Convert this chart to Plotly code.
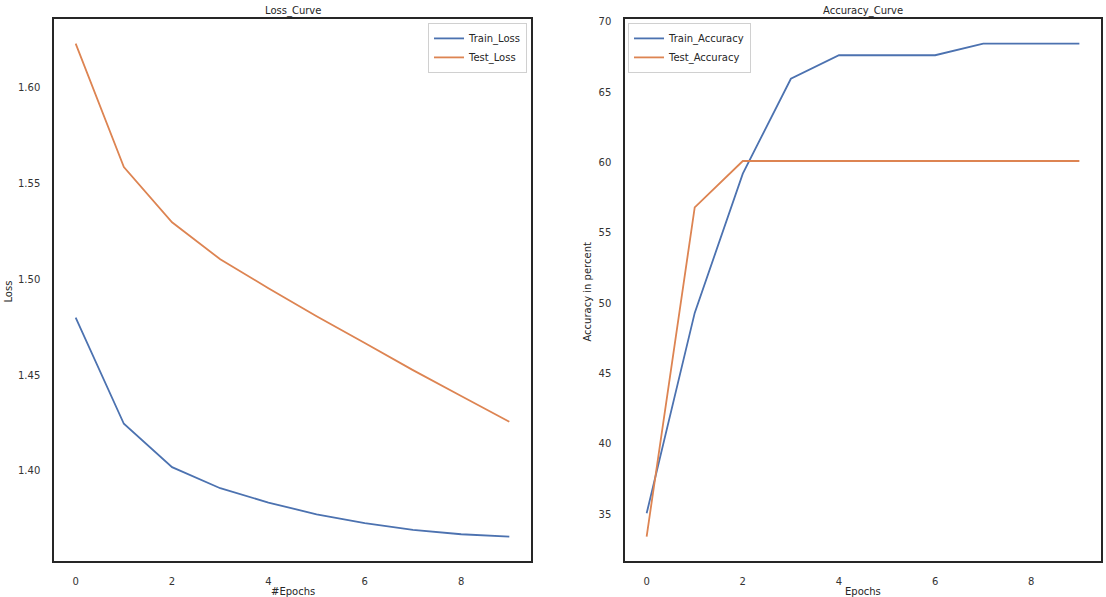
import plotly.graph_objects as go

W, H = 1106, 597

epochs = list(range(10))
train_loss = [1.480, 1.4246, 1.402, 1.391, 1.3835, 1.3774, 1.3728, 1.3693, 1.367, 1.3658]
test_loss = [1.6229, 1.5585, 1.5297, 1.5104, 1.4953, 1.4807, 1.4667, 1.4526, 1.4391, 1.4257]
train_acc = [35.05, 49.3, 59.2, 65.95, 67.62, 67.62, 67.62, 68.45, 68.45, 68.45]
test_acc = [33.4, 56.8, 60.1, 60.1, 60.1, 60.1, 60.1, 60.1, 60.1, 60.1]

BLUE = "#4C72B0"
ORANGE = "#DD8452"
INK = "#262626"
FONT = "DejaVu Sans"

def px(x):
    return x / W

def py(y):
    return 1 - y / H

fig = go.Figure()
fig.add_trace(go.Scatter(x=epochs, y=train_loss, mode="lines", name="Train_Loss",
                         line=dict(color=BLUE, width=1.8), xaxis="x", yaxis="y", legend="legend"))
fig.add_trace(go.Scatter(x=epochs, y=test_loss, mode="lines", name="Test_Loss",
                         line=dict(color=ORANGE, width=1.8), xaxis="x", yaxis="y", legend="legend"))
fig.add_trace(go.Scatter(x=epochs, y=train_acc, mode="lines", name="Train_Accuracy",
                         line=dict(color=BLUE, width=1.8), xaxis="x2", yaxis="y2", legend="legend2"))
fig.add_trace(go.Scatter(x=epochs, y=test_acc, mode="lines", name="Test_Accuracy",
                         line=dict(color=ORANGE, width=1.8), xaxis="x2", yaxis="y2", legend="legend2"))

ax_common = dict(showline=True, mirror=True, linecolor=INK, linewidth=1.5,
                 showgrid=False, zeroline=False, ticks="", ticklabelstandoff=10,
                 tickfont=dict(family=FONT, size=10, color="#333333"))

def lo_hi(vals):
    lo, hi = min(vals), max(vals)
    pad = (hi - lo) * 0.05
    return [lo - pad, hi + pad]

fig.update_layout(
    width=W, height=H,
    margin=dict(l=0, r=0, t=0, b=0),
    paper_bgcolor="white", plot_bgcolor="white",
    font=dict(family=FONT, size=10, color=INK),
    xaxis=dict(domain=[px(54), px(531)], range=[-0.45, 9.45], anchor="y",
               tickvals=[0, 2, 4, 6, 8], **ax_common),
    yaxis=dict(domain=[py(561), py(16)], range=lo_hi(train_loss + test_loss), anchor="x",
               tickvals=[1.40, 1.45, 1.50, 1.55, 1.60], tickformat=".2f", **ax_common),
    xaxis2=dict(domain=[px(625), px(1101)], range=[-0.45, 9.45], anchor="y2",
                tickvals=[0, 2, 4, 6, 8], **ax_common),
    yaxis2=dict(domain=[py(561), py(16)], range=lo_hi(train_acc + test_acc), anchor="x2",
                tickvals=[35, 40, 45, 50, 55, 60, 65, 70], **ax_common),
    legend=dict(x=px(527), y=py(20), xanchor="right", yanchor="top",
                bgcolor="rgba(255,255,255,0.8)", bordercolor="#d0d0d0", borderwidth=1,
                font=dict(family=FONT, size=10, color=INK), tracegroupgap=0,
                itemwidth=30),
    legend2=dict(x=px(628), y=py(20), xanchor="left", yanchor="top",
                 bgcolor="rgba(255,255,255,0.8)", bordercolor="#d0d0d0", borderwidth=1,
                 font=dict(family=FONT, size=10, color=INK), tracegroupgap=0,
                 itemwidth=30),
    showlegend=True,
)

def ann(text, x, y, angle=0):
    fig.add_annotation(text=text, x=px(x), y=py(y), xref="paper", yref="paper",
                       showarrow=False, xanchor="center", yanchor="middle",
                       textangle=angle, font=dict(family=FONT, size=10, color=INK))

ann("Loss_Curve", 292.5, 8)
ann("Accuracy_Curve", 863, 8)
ann("#Epochs", 292.5, 591)
ann("Epochs", 863, 591)
ann("Loss", 9, 290, -90)
ann("Accuracy in percent", 588, 290, -90)

fig.write_html("out.html",
               config={"displayModeBar": False},
               post_script="document.body.style.margin='0';document.body.style.overflow='hidden';")
